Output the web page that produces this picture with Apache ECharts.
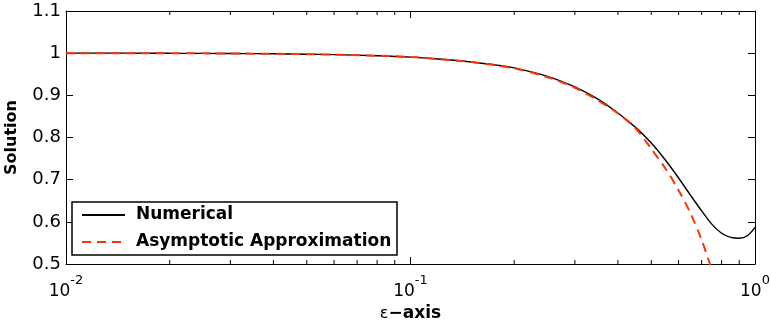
<!DOCTYPE html>
<html>
<head>
<meta charset="utf-8">
<script src="https://cdn.jsdelivr.net/npm/echarts@6/dist/echarts.min.js"></script>
<style>
  html, body { margin: 0; padding: 0; background: #fff; }
  #chart { width: 771px; height: 322px; }
</style>
</head>
<body>
<div id="chart"></div>
<script>
// epsilon values and the solution computed numerically
const epsNumerical = [0.01, 0.015, 0.02, 0.03, 0.04, 0.05, 0.06, 0.08, 0.1, 0.12, 0.15, 0.18, 0.2,
  0.25, 0.3, 0.35, 0.4, 0.45, 0.5, 0.55, 0.6, 0.65, 0.7, 0.75, 0.8, 0.85, 0.9, 0.95, 1.0];
const solNumerical = [1.000, 1.000, 0.9997, 0.9993, 0.9985, 0.9975, 0.9965, 0.9938, 0.9905, 0.986, 0.979, 0.971, 0.965,
  0.945, 0.920, 0.891, 0.858, 0.824, 0.787, 0.746, 0.704, 0.663, 0.626, 0.594, 0.573, 0.563, 0.561, 0.567, 0.587];

// epsilon values and the asymptotic approximation
const epsAsymptotic = [0.01, 0.02, 0.03, 0.05, 0.08, 0.1, 0.15, 0.2, 0.25, 0.3, 0.35, 0.4, 0.45,
  0.5, 0.55, 0.6, 0.65, 0.7, 0.74, 0.76];
const solAsymptotic = [1.000, 0.9997, 0.9992, 0.9976, 0.994, 0.991, 0.979, 0.964, 0.943, 0.918, 0.888, 0.857, 0.822,
  0.773, 0.726, 0.675, 0.620, 0.557, 0.500, 0.474];

// minor tick positions on the logarithmic epsilon axis
const minorTickValues = [0.02, 0.03, 0.04, 0.05, 0.06, 0.07, 0.08, 0.09,
  0.2, 0.3, 0.4, 0.5, 0.6, 0.7, 0.8, 0.9];

const seriesNames = ['Numerical', 'Asymptotic Approximation'];
const xMin = 0.01, xMax = 1;
const yMin = 0.5, yMax = 1.1, yStep = 0.1;

const FONT = 'DejaVu Sans';
const zip = (xs, ys) => xs.map((x, i) => [x, ys[i]]);

const chart = echarts.init(document.getElementById('chart'), null, { renderer: 'canvas' });

const axisLineStyle = { color: '#000', width: 1 };

chart.setOption({
  animation: false,
  backgroundColor: '#fff',
  grid: { left: 66, right: 16, top: 11, bottom: 58, containLabel: false, outerBoundsMode: 'none' },
  legend: {
    data: seriesNames,
    orient: 'vertical',
    left: 72,
    top: 202,
    padding: [3, 5, 3, 9],
    itemGap: 7,
    itemWidth: 43,
    itemHeight: 14,
    itemStyle: { opacity: 0 },
    borderColor: '#000',
    borderWidth: 1.5,
    backgroundColor: '#fff',
    selectedMode: false,
    textStyle: {
      fontFamily: FONT, fontWeight: 'bold', fontSize: 17, color: '#000',
      lineHeight: 20, padding: [0, 0, 0, 6], width: 256
    }
  },
  xAxis: [
    {
      type: 'log', logBase: 10, min: xMin, max: xMax, position: 'bottom',
      name: '{e|ε}{t|−axis}',
      nameLocation: 'middle',
      nameGap: 38,
      nameTextStyle: {
        rich: {
          e: { fontFamily: FONT, fontSize: 16, color: '#000', lineHeight: 17 },
          t: { fontFamily: FONT, fontWeight: 'bold', fontSize: 17, color: '#000', lineHeight: 17 }
        }
      },
      axisLine: { show: true, lineStyle: axisLineStyle },
      axisTick: { show: true, inside: true, length: 7, lineStyle: axisLineStyle },
      splitLine: { show: false },
      minorTick: { show: false },
      axisLabel: {
        margin: 19,
        formatter: v => '{b|10}{s|' + Math.round(Math.log10(v)) + '}',
        rich: {
          b: { fontFamily: FONT, fontSize: 17, color: '#000', lineHeight: 17, verticalAlign: 'bottom' },
          s: { fontFamily: FONT, fontSize: 13, color: '#000', lineHeight: 13, padding: [0, 0, 13, 0], verticalAlign: 'bottom' }
        }
      }
    },
    {
      type: 'log', logBase: 10, min: xMin, max: xMax, position: 'top',
      axisLine: { show: true, lineStyle: axisLineStyle },
      axisTick: { show: true, inside: true, length: 7, lineStyle: axisLineStyle },
      axisLabel: { show: false },
      splitLine: { show: false }
    }
  ],
  yAxis: [
    {
      type: 'value', min: yMin, max: yMax, interval: yStep, position: 'left',
      name: 'Solution',
      nameLocation: 'middle',
      nameGap: 46,
      nameTextStyle: { fontFamily: FONT, fontWeight: 'bold', fontSize: 16, color: '#000' },
      axisLine: { show: true, lineStyle: axisLineStyle },
      axisTick: { show: true, inside: true, length: 7, lineStyle: axisLineStyle },
      splitLine: { show: false },
      axisLabel: { margin: 5, fontFamily: FONT, fontSize: 18, color: '#000' }
    },
    {
      type: 'value', min: yMin, max: yMax, interval: yStep, position: 'right',
      axisLine: { show: true, lineStyle: axisLineStyle },
      axisTick: { show: true, inside: true, length: 7, lineStyle: axisLineStyle },
      axisLabel: { show: false },
      splitLine: { show: false }
    }
  ],
  series: [
    {
      name: seriesNames[0],
      type: 'line',
      data: zip(epsNumerical, solNumerical),
      showSymbol: false,
      symbol: 'none',
      smooth: 0.3,
      clip: true,
      lineStyle: { color: '#000', width: 1.4, type: 'solid' },
      itemStyle: { color: '#000' },
      z: 3
    },
    {
      name: seriesNames[1],
      type: 'line',
      data: zip(epsAsymptotic, solAsymptotic),
      showSymbol: false,
      symbol: 'none',
      smooth: 0.3,
      clip: true,
      lineStyle: { color: '#ff3300', width: 2, type: [9, 6] },
      itemStyle: { color: '#ff3300' },
      z: 4
    },
    {
      // minor ticks of the log axis, drawn on bottom and top frame edges
      type: 'custom',
      silent: true,
      clip: false,
      data: minorTickValues.map(v => [v, yMin]),
      renderItem: (params, api) => {
        const v = api.value(0);
        const b = api.coord([v, yMin]);
        const t = api.coord([v, yMax]);
        const st = { stroke: '#000', lineWidth: 1 };
        return {
          type: 'group',
          children: [
            { type: 'line', shape: { x1: b[0], y1: b[1], x2: b[0], y2: b[1] - 4 }, style: st },
            { type: 'line', shape: { x1: t[0], y1: t[1], x2: t[0], y2: t[1] + 4 }, style: st }
          ]
        };
      },
      z: 2
    }
  ]
});
</script>
</body>
</html>
